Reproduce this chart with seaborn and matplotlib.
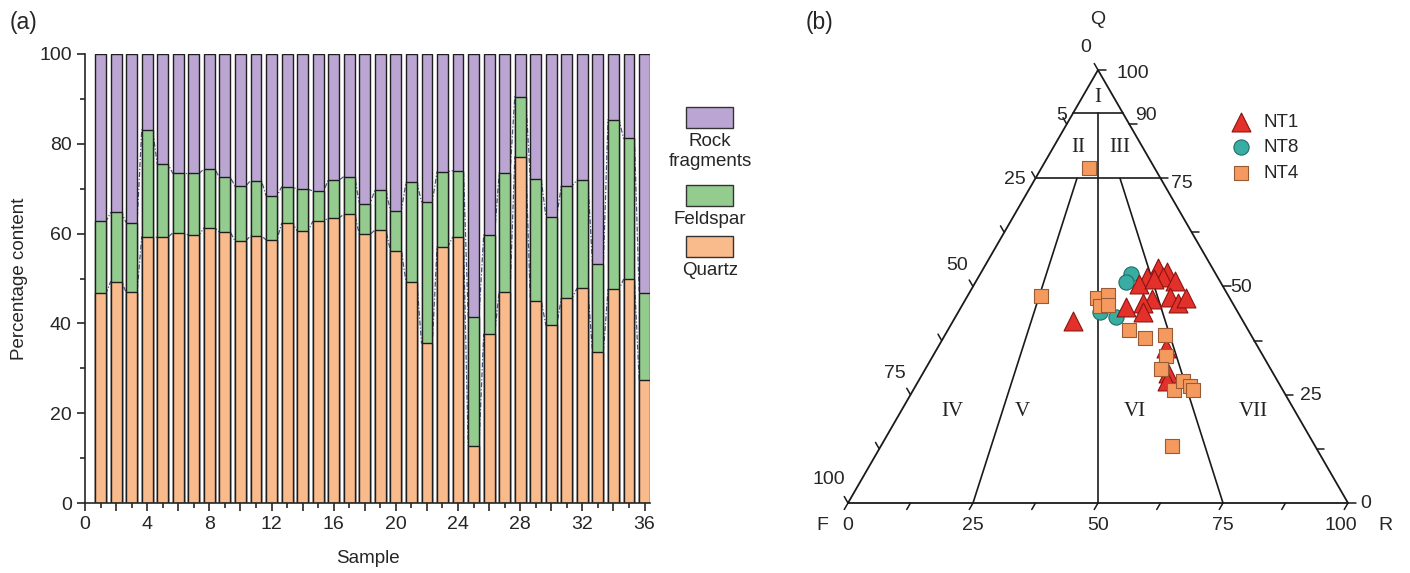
import numpy as np
import pandas as pd
import matplotlib
matplotlib.use("Agg")
import matplotlib.pyplot as plt
import seaborn as sb
from matplotlib.patches import Rectangle

sb.set_style("ticks")
plt.rcParams['font.family'] = ['Liberation Sans', 'DejaVu Sans']
plt.rcParams['axes.linewidth'] = 1.2

# --- datos (a): composicion por muestra (%) ---
muestras = list(range(1, 37))
cuarzo = [46.7, 49.3, 46.9, 59.3, 59.2, 60.2, 59.7, 61.3, 60.3, 58.4, 59.5, 58.6,
          62.3, 60.6, 62.7, 63.5, 64.3, 59.8, 60.8, 56.2, 49.3, 35.6, 57.1, 59.2,
          12.8, 37.6, 47.1, 77.1, 45.0, 39.6, 45.7, 47.8, 33.6, 47.6, 49.8, 27.5]
feldespato = [16.0, 15.4, 15.5, 23.8, 16.2, 13.2, 13.7, 13.1, 12.2, 12.2, 12.3, 9.8,
              8.1, 9.3, 6.8, 8.4, 8.4, 6.9, 8.9, 8.9, 22.1, 31.5, 16.7, 14.8,
              28.7, 22.1, 26.5, 13.4, 27.1, 24.2, 25.0, 24.1, 19.6, 37.8, 31.4, 19.2]
capas = ['Rock\nfragments', 'Feldspar', 'Quartz']
colores = ['#bba6d3', '#94cb8e', '#f9ba8c']

# --- datos (b): diagrama ternario Q-F-R (%) ---
nt1_q = [42.1, 54.3, 53.3, 52.3, 52.3, 51.3, 50.6, 47.1, 46.3, 45.2, 44.2, 47.5,
         46.3, 47.3, 51.7, 35.9, 30.1, 28.1]
nt1_r = [24.0, 34.9, 37.1, 33.6, 36.9, 39.7, 32.8, 37.2, 35.9, 33.0, 36.9, 40.7,
         42.9, 44.0, 35.3, 45.7, 49.0, 49.7]
nt8_q = [52.9, 51.1, 44.0, 43.0]
nt8_r = [30.1, 30.0, 28.4, 32.0]
nt4_q = [77.3, 47.7, 47.3, 48.0, 45.5, 45.7, 40.0, 38.0, 38.7, 33.9, 30.9, 26.0,
         28.1, 27.0, 26.0, 13.2]
nt4_r = [9.6, 14.7, 26.2, 28.0, 27.6, 29.2, 36.1, 40.4, 44.0, 46.6, 47.1, 52.1,
         53.0, 54.9, 55.9, 58.2]

cuarzo = np.array(cuarzo)
feldespato = np.array(feldespato)
roca = 100 - cuarzo - feldespato
qf = cuarzo + feldespato

fig = plt.figure(figsize=(14.1, 5.73), dpi=100)

# ================= (a) barras apiladas =================
ax = fig.add_axes([85 / 1410, 70 / 573, 565 / 1410, 449 / 573])
ancho = 0.7
for tot, col in zip([cuarzo + feldespato + roca, qf, cuarzo], colores):
    sb.barplot(x=muestras, y=tot, native_scale=True, width=ancho, color=col,
               saturation=1, edgecolor='#1e1e1e', linewidth=1.0,
               errorbar=None, ax=ax)

# lineas punteadas entre las barras
xs = np.repeat(muestras, 2) + np.tile([-ancho / 2, ancho / 2], len(muestras))
for tope in [cuarzo, qf]:
    ax.plot(xs, np.repeat(tope, 2), color='#4e5b80', lw=0.9, ls=(0, (4, 1.5, 1, 1.5)),
            zorder=0.5)

ax.set_xlim(0, 36.35)
ax.set_ylim(0, 100)
ax.set_xticks(range(0, 37, 2))
ax.set_xticklabels([str(v) if v % 4 == 0 else '' for v in range(0, 37, 2)])
ax.set_xticks(range(0, 37), minor=True)
ax.set_yticks(range(0, 101, 20))
ax.set_yticks(range(0, 101, 10), minor=True)
ax.tick_params(which='major', length=6, width=1.2, labelsize=14, direction='out')
ax.tick_params(which='minor', length=3.5, width=1.2, direction='out')
ax.set_xlabel('Sample', fontsize=13.5, labelpad=12)
ax.set_ylabel('Percentage content', fontsize=13.5, labelpad=8)
sb.despine(ax=ax)

# leyenda manual (caja arriba, texto debajo)
for col, lab, ytop in zip(colores, capas, [107, 185, 236]):
    fig.patches.append(Rectangle((686 / 1410, 1 - (ytop + 21) / 573), 47 / 1410, 21 / 573,
                                 transform=fig.transFigure, facecolor=col,
                                 edgecolor='#333333', lw=1.0))
    fig.text(710 / 1410, 1 - (ytop + 26) / 573, lab, ha='center', va='top',
             fontsize=13.5, linespacing=1.25)

fig.text(10 / 1410, 1 - 22 / 573, '(a)', fontsize=16.5, va='center')
fig.text(806 / 1410, 1 - 22 / 573, '(b)', fontsize=16.5, va='center')


# ================= (b) diagrama ternario =================
def a_xy(q, r):
    q = np.asarray(q, dtype=float)
    r = np.asarray(r, dtype=float)
    return r + q / 2, q * np.sqrt(3) / 2


ax2 = fig.add_axes([788 / 1410, 5 / 573, 620 / 1410, 560 / 573])
ax2.set_xlim(-12, 112)
ax2.set_ylim(-13, 99)
ax2.axis('off')

# borde del triangulo
bx, by = a_xy([0, 0, 100, 0], [0, 100, 0, 0])
ax2.plot(bx, by, color='#1a1a1a', lw=1.3)

# lineas de clasificacion
lineas = [([90, 90], [0, 10]), ([75, 75], [0, 25]), ([90, 0], [5, 50]),
          ([75, 0], [8.3, 25]), ([75, 0], [16.9, 75])]
for lq, lr in lineas:
    lx, ly = a_xy(lq, lr)
    ax2.plot(lx, ly, color='#1a1a1a', lw=1.2)

# marcas de los ejes
pasos = np.arange(0, 101, 12.5)
lt = 1.5
for v in pasos:
    x0, y0 = a_xy(v, 0)          # borde izquierdo
    ax2.plot([x0, x0 - 0.5 * lt], [y0, y0 + 0.866 * lt], color='#1a1a1a', lw=1.1)
    x0, y0 = a_xy(v, 100 - v)    # borde derecho
    ax2.plot([x0, x0 + lt], [y0, y0], color='#1a1a1a', lw=1.1)
    x0, y0 = a_xy(0, v)          # base
    ax2.plot([x0, x0 - 0.5 * lt], [y0, y0 - 0.866 * lt], color='#1a1a1a', lw=1.1)

fs = 14
for t, x, y in [('0', 0, -4.6), ('25', 25, -4.6), ('50', 50, -4.6), ('75', 75, -4.6),
                ('100', 98.6, -4.6)]:
    ax2.text(x, y, t, ha='center', va='center', fontsize=fs)
ax2.text(-5.2, -4.6, 'F', ha='center', va='center', fontsize=fs)
ax2.text(107.4, -4.6, 'R', ha='center', va='center', fontsize=fs)
ax2.text(50, 96.6, 'Q', ha='center', va='center', fontsize=fs)
for t, x, y in [('0', 47.6, 91.0), ('5', 42.8, 77.6), ('25', 33.4, 64.8),
                ('50', 21.8, 47.6), ('75', 9.4, 26.0), ('100', -3.8, 4.6)]:
    ax2.text(x, y, t, ha='center', va='center', fontsize=fs)
for t, x, y in [('100', 57.0, 86.0), ('90', 59.6, 77.6), ('75', 66.8, 64.0),
                ('50', 78.6, 43.0), ('25', 92.6, 21.6), ('0', 103.6, 0.0)]:
    ax2.text(x, y, t, ha='center', va='center', fontsize=fs)

for t, x, y in [('I', 50, 81.2), ('II', 46, 71.0), ('III', 54.4, 71.0),
                ('IV', 20.8, 18.2), ('V', 34.8, 18.2), ('VI', 57.4, 18.2),
                ('VII', 81.0, 18.2)]:
    ax2.text(x, y, t, ha='center', va='center', fontsize=15,
             family=['Liberation Serif', 'DejaVu Serif'], color='#222222')

# puntos
grupos = [('NT8', nt8_q, nt8_r, 'o', '#3aada3', '#1f6e68', 120),
          ('NT1', nt1_q, nt1_r, '^', '#e4302a', '#8a1410', 185),
          ('NT4', nt4_q, nt4_r, 's', '#f59a5e', '#9a5a35', 100)]
for nom, gq, gr, mk, fc, ec, sz in grupos:
    gx, gy = a_xy(gq, gr)
    df = pd.DataFrame({'x': gx, 'y': gy})
    sb.scatterplot(data=df, x='x', y='y', marker=mk, color=fc, edgecolor=ec,
                   linewidth=0.8, s=sz, label=nom, ax=ax2, zorder=3)

h, l = ax2.get_legend_handles_labels()
orden = [l.index('NT1'), l.index('NT8'), l.index('NT4')]
ax2.legend([h[i] for i in orden], [l[i] for i in orden], loc='upper left',
           bbox_to_anchor=(1222 / 1410, 1 - 106 / 573), bbox_transform=fig.transFigure,
           frameon=False, fontsize=13.5, handletextpad=0.6, labelspacing=0.45,
           borderaxespad=0, handlelength=1.2)

fig.savefig('out.png', dpi=100)
